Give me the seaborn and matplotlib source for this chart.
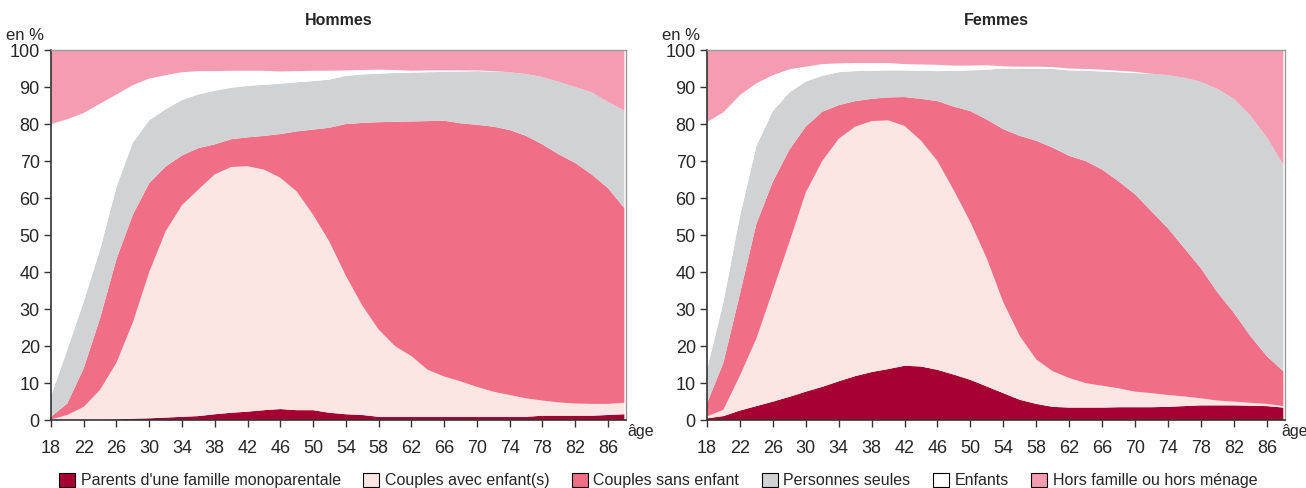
import matplotlib

matplotlib.use("Agg")
import matplotlib.pyplot as plt
import seaborn as sns
from matplotlib.patches import Patch

ages = [18, 20, 22, 24, 26, 28, 30, 32, 34, 36, 38, 40, 42, 44, 46, 48, 50, 52,
        54, 56, 58, 60, 62, 64, 66, 68, 70, 72, 74, 76, 78, 80, 82, 84, 86, 88]

categories = ["Parents d'une famille monoparentale", "Couples avec enfant(s)",
              "Couples sans enfant", "Personnes seules", "Enfants",
              "Hors famille ou hors ménage"]

# Hommes, share (%) of each situation by age
h_mono = [0, 0, 0, 0, 0.2, 0.4, 0.5, 0.7, 0.9, 1.1, 1.6, 2.0, 2.3, 2.7, 3.0, 2.7, 2.7, 2.0,
          1.6, 1.4, 0.9, 0.9, 0.9, 0.9, 0.9, 0.9, 0.9, 0.9, 0.9, 0.9, 1.2, 1.2, 1.2, 1.2, 1.4, 1.6]
h_avec = [0.2, 1.4, 3.6, 8.2, 15.3, 26.0, 39.5, 50.3, 57.2, 61.2, 64.8, 66.4, 66.3, 65.0, 62.5, 59.1, 52.8, 46.2,
          37.4, 29.6, 23.6, 19.1, 16.4, 12.7, 10.9, 9.6, 8.1, 6.8, 5.9, 5.0, 4.1, 3.6, 3.3, 3.2, 3.0, 3.1]
h_sans = [0.7, 3.1, 10.4, 19.3, 28.0, 29.1, 24.0, 17.5, 13.4, 11.2, 8.1, 7.5, 7.8, 9.1, 11.8, 16.2, 23.0, 30.8,
          41.0, 49.3, 56.0, 60.6, 63.4, 67.2, 69.1, 69.7, 70.8, 71.6, 71.6, 70.9, 69.2, 67.0, 65.0, 62.0, 58.3, 52.6]
h_seules = [5.5, 14.5, 18.0, 18.5, 19.5, 19.5, 17.0, 15.5, 15.0, 14.5, 14.5, 13.9, 13.9, 13.8, 13.6, 13.3, 13.1, 13.0,
            13.0, 13.1, 13.1, 13.2, 13.2, 13.2, 13.2, 14.0, 14.5, 14.9, 15.6, 16.7, 18.2, 19.6, 20.5, 22.2, 23.3, 26.3]
h_enfants = [73.6, 62.3, 51.0, 39.5, 25.0, 15.5, 11.3, 9.2, 7.5, 6.3, 5.3, 4.6, 4.1, 3.8, 3.3, 3.0, 2.8, 2.4,
             1.5, 1.2, 1.1, 0.8, 0.5, 0.5, 0.4, 0.3, 0.2, 0.1, 0, 0, 0, 0, 0, 0, 0, 0]
h_hors = [20.0, 18.7, 17.0, 14.5, 12.0, 9.5, 7.7, 6.8, 6.0, 5.7, 5.7, 5.6, 5.6, 5.6, 5.8, 5.7, 5.6, 5.6,
          5.5, 5.4, 5.3, 5.4, 5.6, 5.5, 5.5, 5.5, 5.5, 5.7, 6.0, 6.5, 7.3, 8.6, 10.0, 11.4, 14.0, 16.4]

# Femmes
f_mono = [0.5, 1.1, 2.6, 3.8, 5.0, 6.3, 7.7, 9.0, 10.5, 11.9, 13.0, 13.8, 14.7, 14.5, 13.6, 12.3, 10.9, 9.1,
          7.3, 5.5, 4.4, 3.6, 3.4, 3.4, 3.4, 3.5, 3.5, 3.5, 3.6, 3.8, 4.0, 4.0, 4.0, 3.9, 3.8, 3.4]
f_avec = [0.5, 1.7, 9.4, 18.2, 30.0, 41.7, 53.8, 61.0, 65.5, 67.4, 67.8, 67.2, 64.8, 61.0, 56.4, 49.7, 42.6, 34.5,
          24.5, 17.2, 12.0, 9.6, 8.0, 6.6, 5.9, 5.1, 4.2, 3.8, 3.2, 2.6, 1.9, 1.3, 1.0, 0.8, 0.6, 0.4]
f_sans = [3.5, 12.7, 22.0, 31.0, 29.4, 25.0, 17.8, 13.3, 9.1, 6.9, 6.0, 6.2, 7.8, 11.3, 16.2, 22.7, 30.0, 37.6,
          46.8, 54.1, 59.1, 60.4, 60.0, 60.0, 58.4, 55.9, 53.3, 49.1, 45.0, 40.0, 35.1, 29.2, 24.0, 18.0, 12.9, 9.4]
f_seules = [9.1, 16.3, 21.0, 21.0, 19.1, 15.5, 12.2, 9.7, 8.9, 8.1, 7.6, 7.3, 7.2, 7.6, 8.1, 9.7, 11.0, 13.5,
            16.4, 18.2, 19.5, 21.3, 23.1, 24.4, 26.5, 29.5, 32.8, 37.2, 41.4, 46.1, 50.4, 55.0, 57.8, 59.6, 59.1, 55.8]
f_enfants = [66.9, 51.4, 32.8, 17.0, 9.7, 6.3, 4.0, 3.2, 2.4, 2.2, 2.1, 2.0, 1.7, 1.7, 1.7, 1.4, 1.3, 1.2,
             0.6, 0.5, 0.5, 0.5, 0.5, 0.5, 0.5, 0.4, 0.3, 0, 0, 0, 0, 0, 0, 0, 0, 0]
f_hors = [19.5, 16.8, 12.2, 9.0, 6.8, 5.2, 4.5, 3.8, 3.6, 3.5, 3.5, 3.5, 3.8, 3.9, 4.0, 4.2, 4.2, 4.1,
          4.4, 4.5, 4.5, 4.6, 5.0, 5.1, 5.3, 5.6, 5.9, 6.4, 6.8, 7.5, 8.6, 10.5, 13.2, 17.7, 23.6, 31.0]

x_ticks = list(range(18, 88, 4))
y_ticks = list(range(0, 101, 10))

COLORS = ["#A60032", "#FCE6E4", "#F06E86", "#D1D2D4", "#FFFFFF", "#F49DB2"]
FONT = ["Liberation Sans", "DejaVu Sans"]


def draw_panel(ax, series, title, age_x):
    ax.stackplot(ages, *series, colors=COLORS, linewidth=0, edgecolor="none")
    ax.set_xlim(18, 88.2)
    ax.set_ylim(0, 100)
    ax.set_xticks(x_ticks)
    ax.set_yticks(y_ticks)
    ax.tick_params(axis="both", labelsize=13, length=5, width=1, color="#333333")
    ax.tick_params(axis="x", pad=9)
    ax.tick_params(axis="y", pad=3)
    for side in ["left", "bottom"]:
        ax.spines[side].set_color("#333333")
        ax.spines[side].set_linewidth(1.2)
    for side in ["top", "right"]:
        ax.spines[side].set_visible(True)
        ax.spines[side].set_color("#9a9a9a")
        ax.spines[side].set_linewidth(1)
    ax.set_title(title, fontsize=11.5, fontweight="bold", pad=18)
    ax.text(-0.012, 1.02, "en %", transform=ax.transAxes, ha="right", va="bottom", fontsize=12)
    ax.text(age_x, -0.01, "âge", transform=ax.transAxes, ha="left", va="top", fontsize=11.5)


sns.set_style("ticks")
plt.rcParams["font.family"] = FONT

fig = plt.figure(figsize=(13.06, 4.88), dpi=100)
ax_h = fig.add_axes([0.039, 0.139, 0.4403, 0.7585])
ax_f = fig.add_axes([0.5413, 0.139, 0.4426, 0.7585])

draw_panel(ax_h, [h_mono, h_avec, h_sans, h_seules, h_enfants, h_hors], "Hommes", 1.003)
draw_panel(ax_f, [f_mono, f_avec, f_sans, f_seules, f_enfants, f_hors], "Femmes", 0.993)

handles = [Patch(facecolor=c, edgecolor="black", linewidth=0.8) for c in COLORS]
fig.legend(handles, categories, loc="lower center", bbox_to_anchor=(0.504, -0.03), ncol=6,
           frameon=False, handlelength=1.0, handleheight=1.0,
           handletextpad=0.35, columnspacing=1.4, prop={"family": FONT, "size": 11.5})

fig.savefig("out.png", dpi=100)
